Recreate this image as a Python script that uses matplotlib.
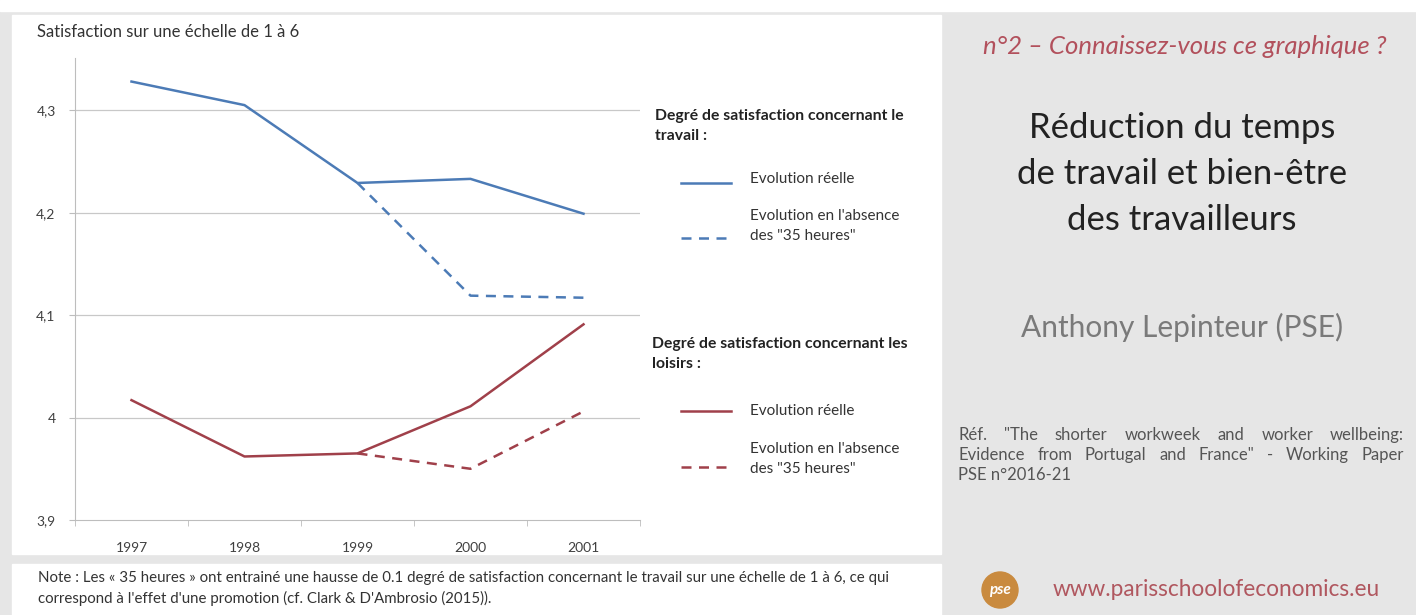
import numpy as np
import matplotlib
matplotlib.use("Agg")
from matplotlib import pyplot as plt
from matplotlib import patches

W, H = 1416, 615
years = ["1997", "1998", "1999", "2000", "2001"]
travail_reel = [4.328, 4.305, 4.229, 4.233, 4.199]
travail_sans35 = [np.nan, np.nan, 4.229, 4.119, 4.117]
loisirs_reel = [4.017, 3.962, 3.965, 4.011, 4.091]
loisirs_sans35 = [np.nan, np.nan, 3.965, 3.950, 4.006]
yticks = [3.9, 4.0, 4.1, 4.2, 4.3]
ytick_labels = ["3,9", "4", "4,1", "4,2", "4,3"]

blue = "#4c7bb6"
red = "#a0404a"
plt.rcParams["font.family"] = ["Lato", "DejaVu Sans"]

fig = plt.figure(figsize=(W / 100, H / 100), dpi=100)
fig.patch.set_facecolor("#e6e6e6")

def fx(x):
    return x / W

def fy(y):
    return 1 - y / H

def txt(x, y, s, **kw):
    return fig.text(fx(x), fy(y), s, **kw)

# white panels
for r in [(0, 0, W, 11), (12, 15, 941, 554), (12, 564, 941, H)]:
    fig.patches.append(patches.Rectangle((fx(r[0]), fy(r[3])), fx(r[2]) - fx(r[0]),
                                         (r[3] - r[1]) / H, transform=fig.transFigure,
                                         color="white", zorder=-5))

# chart
ax = fig.add_axes([fx(75), fy(520), fx(640) - fx(75), (520 - 58) / H])
ax.set_facecolor("none")
ax.set_zorder(2)
x = np.arange(len(years))
ax.plot(x, travail_reel, color=blue, lw=1.8)
ax.plot(x, travail_sans35, color=blue, lw=1.8, dashes=(4, 3))
ax.plot(x, loisirs_reel, color=red, lw=1.8)
ax.plot(x, loisirs_sans35, color=red, lw=1.8, dashes=(4, 3))
ax.set_xlim(-0.5, 4.5)
ax.set_ylim(3.9, 4.351)
ax.set_yticks(yticks)
ax.set_yticklabels(ytick_labels)
ax.set_xticks(x)
ax.set_xticklabels(years)
ax.set_xticks(np.arange(-0.5, 5, 1), minor=True)
for v in yticks[1:]:
    ax.axhline(v, color="#c8c8c8", lw=0.9, zorder=0)
for s in ["top", "right"]:
    ax.spines[s].set_visible(False)
ax.spines["left"].set_color("#bdbdbd")
ax.spines["bottom"].set_color("#bdbdbd")
ax.tick_params(axis="y", length=4, color="#bdbdbd", labelsize=10, labelcolor="#404040", pad=10)
ax.tick_params(axis="x", which="major", length=0, labelsize=10, labelcolor="#404040", pad=16)
ax.tick_params(axis="x", which="minor", length=4, color="#bdbdbd")

txt(37, 32, "Satisfaction sur une échelle de 1 à 6", fontsize=12, color="#333333", va="center")

# legend block
leg = [
    (blue, None, 183, "Evolution réelle", 179),
    (blue, (4, 3), 238, "Evolution en l'absence\ndes \"35 heures\"", 226),
    (red, None, 411, "Evolution réelle", 411),
    (red, (4, 3), 467, "Evolution en l'absence\ndes \"35 heures\"", 459),
]
txt(655, 126, "Degré de satisfaction concernant le\ntravail :", fontsize=11.3, fontweight="bold",
    color="#222222", va="center", linespacing=1.55)
txt(652, 354, "Degré de satisfaction concernant les\nloisirs :", fontsize=11.3, fontweight="bold",
    color="#222222", va="center", linespacing=1.55)
for col, dash, ly, lab, ty in leg:
    ln = plt.Line2D([fx(681), fx(731)], [fy(ly), fy(ly)], transform=fig.transFigure,
                    color=col, lw=1.8)
    if dash:
        ln.set_dashes(dash)
    fig.lines.append(ln)
    txt(750, ty, lab, fontsize=11, color="#333333", va="center", linespacing=1.55)

# note
txt(38, 578, "Note : Les « 35 heures » ont entrainé une hausse de 0.1 degré de satisfaction concernant "
    "le travail sur une échelle de 1 à 6, ce qui", fontsize=10.8, color="#333333", va="center")
txt(38, 598, "correspond à l'effet d'une promotion (cf. Clark & D'Ambrosio (2015)).",
    fontsize=10.8, color="#333333", va="center")

# right side
cx = 1182
txt(1185, 46, "n°2 – Connaissez-vous ce graphique ?", fontsize=18.5, style="italic",
    color="#b2505c", ha="center", va="center")
txt(cx, 174, "Réduction du temps\nde travail et bien-être\ndes travailleurs", fontsize=25,
    color="#222222", ha="center", va="center", linespacing=1.52)
txt(cx, 327, "Anthony Lepinteur (PSE)", fontsize=21.5, color="#7a7a7a", ha="center", va="center")

# justified reference text
ref_lines = [
    "Réf. \"The shorter workweek and worker wellbeing:",
    "Evidence from Portugal and France\" - Working Paper",
]
fig.canvas.draw()
rend = fig.canvas.get_renderer()
x0, x1 = 958, 1404
for i, line in enumerate(ref_lines):
    words = line.split(" ")
    objs = [txt(0, 435 + 20 * i, w, fontsize=12, color="#555555", va="center") for w in words]
    widths = [o.get_window_extent(rend).width for o in objs]
    gap = (x1 - x0 - sum(widths)) / (len(words) - 1)
    pos = x0
    for o, w in zip(objs, widths):
        o.set_x(fx(pos))
        pos += w + gap
txt(x0, 475, "PSE n°2016-21", fontsize=12, color="#555555", va="center")

logo = patches.Ellipse((fx(1000), fy(590)), 36 / W, 36 / H, transform=fig.transFigure,
                       color="#c98a3e", zorder=1)
fig.patches.append(logo)
txt(1000, 590, "pse", fontsize=11, style="italic", color="white", ha="center", va="center",
    fontweight="bold")
txt(1216, 590, "www.parisschoolofeconomics.eu", fontsize=16.3, color="#b0575f",
    ha="center", va="center")

fig.savefig("out.png", dpi=100, facecolor=fig.get_facecolor())
